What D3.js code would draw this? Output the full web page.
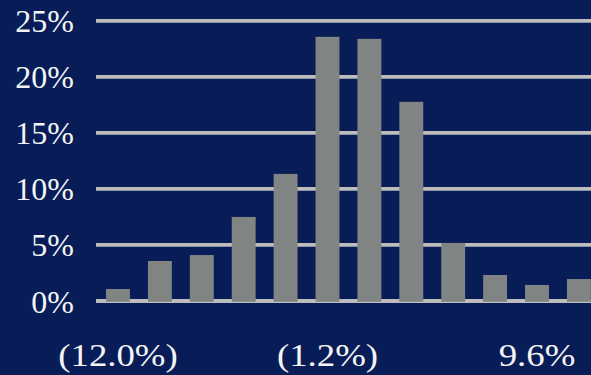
<!DOCTYPE html>
<html>
<head>
<meta charset="utf-8">
<script src="https://cdn.jsdelivr.net/npm/d3@7"></script>
<style>
  html, body { margin: 0; padding: 0; background: #081d57; overflow: hidden; }
  svg { display: block; }
</style>
</head>
<body>
<svg id="chart" width="591" height="375"></svg>
<script>
// Return bins (category labels) and share of observations (%)
const categories = ["(12.0%)", "(9.8%)", "(7.7%)", "(5.5%)", "(3.4%)", "(1.2%)",
                    "1.0%", "3.1%", "5.3%", "7.4%", "9.6%", "11.8%"];
const values = [1.07, 3.57, 4.1, 7.5, 11.34, 23.57, 23.39, 17.77, 5.18, 2.32, 1.43, 1.96];
const xTickLabels = ["(12.0%)", "(1.2%)", "9.6%"];
const yTicks = [0, 5, 10, 15, 20, 25];

const svg = d3.select("#chart");
const W = 591, H = 375;
const serif = '"Liberation Serif"';

const x = d3.scaleBand()
  .domain(categories)
  .range([97.05, 97.05 + 12 * 41.9])
  .paddingInner(18 / 41.9)
  .paddingOuter(9 / 41.9);

const y = d3.scaleLinear().domain([0, 25]).range([301, 20.8]);

// background
svg.append("rect").attr("width", W).attr("height", H).attr("fill", "#081d57");

// gridlines
svg.append("g")
  .selectAll("line")
  .data(yTicks)
  .join("line")
  .attr("x1", 96)
  .attr("x2", 605)
  .attr("y1", d => y(d))
  .attr("y2", d => y(d))
  .attr("stroke", "#bdbdbd")
  .attr("stroke-width", 3.8);

// bars
svg.append("g")
  .selectAll("rect")
  .data(values)
  .join("rect")
  .attr("x", (d, i) => x(categories[i]))
  .attr("width", x.bandwidth())
  .attr("y", d => y(d))
  .attr("height", d => y(0) + 0.8 - y(d))
  .attr("fill", "#808584");

// y axis labels
const yAxis = d3.axisLeft(y)
  .tickValues(yTicks)
  .tickFormat(d => d + "%")
  .tickSize(0)
  .tickPadding(0);
const gy = svg.append("g").attr("transform", "translate(74,0)").call(yAxis);
gy.attr("font-family", null).attr("font-size", null);
gy.select(".domain").remove();
gy.selectAll("text")
  .attr("x", 0)
  .attr("dy", null)
  .attr("y", 11)
  .attr("fill", "#f4f4f4")
  .style("font-family", serif)
  .style("font-size", "32px");

// x axis labels
const xAxis = d3.axisBottom(x)
  .tickValues(xTickLabels)
  .tickSize(0)
  .tickPadding(0);
const gx = svg.append("g").attr("transform", "translate(0,366)").call(xAxis);
gx.attr("font-family", null).attr("font-size", null);
gx.select(".domain").remove();
gx.selectAll("text")
  .attr("y", 0)
  .attr("dy", null)
  .attr("fill", "#f4f4f4")
  .style("font-family", serif)
  .style("font-size", "32px")
  .attr("transform", "scale(1.15,1)");
</script>
</body>
</html>
